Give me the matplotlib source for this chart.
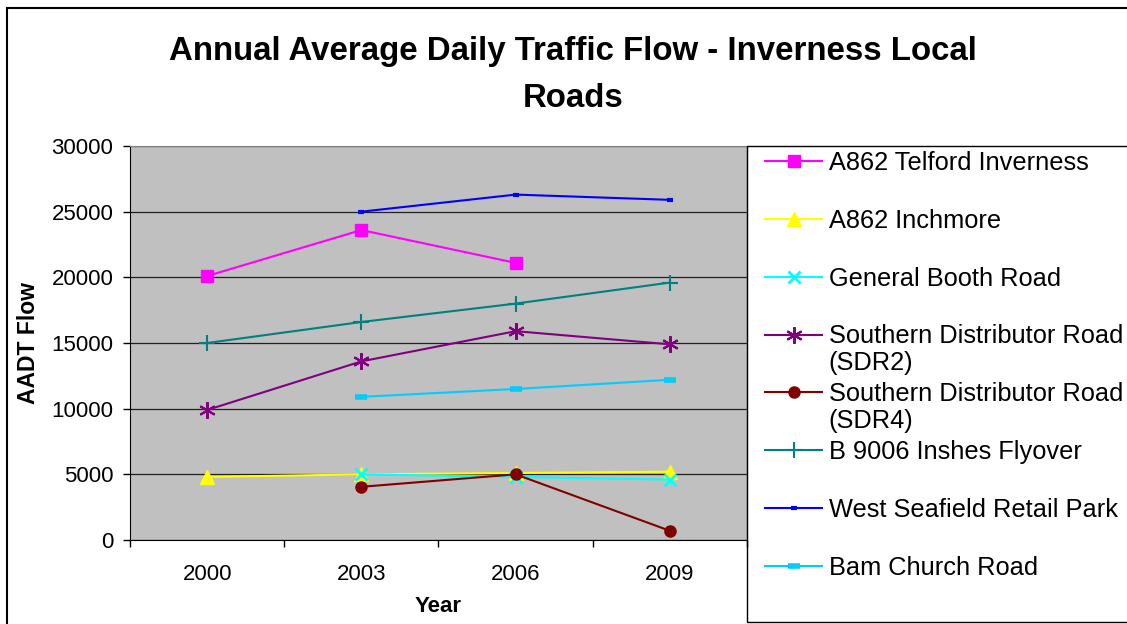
import numpy as np
import matplotlib.pyplot as plt
from matplotlib.patches import Rectangle

plt.rcParams['font.family'] = ['Liberation Sans', 'DejaVu Sans']

# Data (AADT flow)
years = ["2000", "2003", "2006", "2009"]
nan = np.nan

telford = [20100, 23600, 21100, nan]
inchmore = [4800, 5000, 5100, 5200]
general_booth = [nan, 5000, 4800, 4600]
sdr2 = [9900, 13600, 15900, 14900]
sdr4 = [nan, 4050, 5000, 700]
inshes = [15000, 16600, 18000, 19600]
west_seafield = [nan, 25000, 26300, 25900]
bam_church = [nan, 10900, 11500, 12200]

x = np.arange(len(years))

fig = plt.figure(figsize=(11.27, 6.24), dpi=100)
W, H = 1127, 624
ax = fig.add_axes([130 / W, 1 - 540 / H, (747 - 130) / W, (540 - 146) / H])
ax.set_facecolor("#C0C0C0")

# -----------------------------
# Series
# -----------------------------
lw = 1.5
ax.plot(x, telford, color="#FF00FF", lw=lw, marker="s", ms=9, label="A862 Telford Inverness")
ax.plot(x, inchmore, color="#FFFF00", lw=lw, marker="^", ms=10, label="A862 Inchmore")
ax.plot(x, general_booth, color="#00FFFF", lw=lw, marker="x", ms=9, mew=2, label="General Booth Road")
ax.plot(x, sdr2, color="#800080", lw=lw, marker=(6, 2, 0), ms=12, mew=1.5, label="Southern Distributor Road")
ax.plot(x, sdr4, color="#800000", lw=lw, marker="o", ms=8, label="Southern Distributor Road")
ax.plot(x, inshes, color="#008080", lw=lw, marker="+", ms=12, mew=1.5, label="B 9006 Inshes Flyover")
ax.plot(x, west_seafield, color="#0000FF", lw=lw, marker="_", ms=5, mew=3, label="West Seafield Retail Park")
ax.plot(x, bam_church, color="#00CCFF", lw=lw, marker="_", ms=8, mew=4, label="Bam Church Road")

# -----------------------------
# Axes
# -----------------------------
ax.set_xlim(-0.5, len(years) - 0.5)
ax.set_ylim(0, 30000)
ax.set_yticks(np.arange(0, 30001, 5000))
ax.yaxis.grid(True, color="#202020", lw=0.9)
ax.set_axisbelow(True)

ax.set_xticks(x)
ax.set_xticklabels(years)
ax.set_xticks(np.arange(-0.5, len(years)), minor=True)
ax.tick_params(axis="x", which="major", length=0, pad=17, labelsize=16)
ax.tick_params(axis="x", which="minor", length=5, direction="out", width=1)
ax.tick_params(axis="y", length=5, direction="out", width=1, pad=7, labelsize=16)

for s in ["top", "right"]:
    ax.spines[s].set_color("#808080")
for s in ["left", "bottom"]:
    ax.spines[s].set_color("black")

ax.set_xlabel("Year", fontsize=16, fontweight="bold", labelpad=8)
ax.set_ylabel("AADT Flow", fontsize=16.5, fontweight="bold")
ax.yaxis.set_label_coords(-90 / 617, 0.5)

fig.text(573 / W, 1 - 75 / H, "Annual Average Daily Traffic Flow - Inverness Local\nRoads",
         ha="center", va="center", fontsize=23.8, fontweight="bold", linespacing=1.65)

# -----------------------------
# Frames
# -----------------------------
fig.patches.append(Rectangle((7 / W, -0.1), 2, 1 - 8 / H + 0.1, transform=fig.transFigure,
                             fill=False, ec="black", lw=1.5, zorder=0))
fig.patches.append(Rectangle((747 / W, 1 - 622 / H), 2, (622 - 146) / H, transform=fig.transFigure,
                             fill=False, ec="black", lw=1, zorder=5))

# -----------------------------
# Legend
# -----------------------------
leg = ax.legend(loc="upper left", bbox_to_anchor=(765 / W, 1 - 151 / H),
                bbox_transform=fig.transFigure, frameon=False, fontsize=18.3,
                borderpad=0, borderaxespad=0, handlelength=2.25, handletextpad=0.25,
                labelspacing=1.33, numpoints=1)

# second line of the two long labels
for txt, extra in zip(leg.get_texts()[3:5], ["(SDR2)", "(SDR4)"]):
    ax.annotate(extra, xy=(0, 0), xycoords=txt, xytext=(0, -2), textcoords="offset points",
                ha="left", va="top", fontsize=18.3, annotation_clip=False, zorder=6)

fig.savefig("out.png", dpi=100)
